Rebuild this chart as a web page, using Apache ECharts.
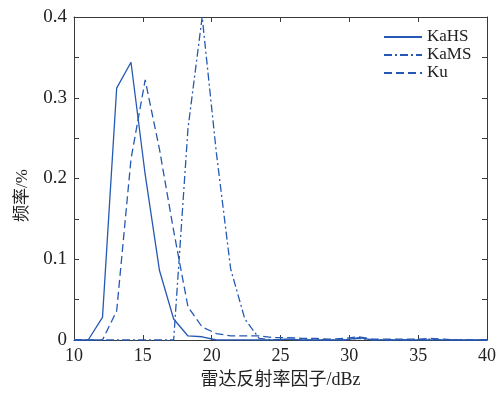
<!DOCTYPE html>
<html>
<head>
<meta charset="utf-8">
<script src="https://cdn.jsdelivr.net/npm/echarts@6/dist/echarts.min.js"></script>
<style>
  html, body { margin: 0; padding: 0; background: #fff; }
  #chart { width: 499px; height: 394px; }
</style>
</head>
<body>
<div id="chart"></div>
<script>
// bin centres (dBz)
const bins = [10, 11.03, 12.07, 13.10, 14.14, 15.17, 16.21, 17.24, 18.28, 19.31,
  20.34, 21.38, 22.41, 23.45, 24.48, 25.52, 26.55, 27.59, 28.62, 29.66,
  30.69, 31.72, 32.76, 33.79, 34.83, 35.86, 36.90, 37.93, 38.97, 40];

const kaHS = [0, 0, 0.028, 0.312, 0.344, 0.205, 0.086, 0.026, 0.005, 0.004,
  0, 0, 0, 0, 0, 0.001, 0, 0, 0, 0,
  0.003, 0, 0, 0, 0, 0, 0, 0, 0, 0];

const kaMS = [0, 0, 0, 0, 0, 0, 0, 0, 0.262, 0.4,
  0.232, 0.088, 0.026, 0.002, 0, 0.001, 0, 0, 0, 0,
  0.002, 0, 0, 0, 0, 0.001, 0, 0, 0, 0];

const ku = [0, 0, 0, 0.036, 0.224, 0.322, 0.236, 0.135, 0.041, 0.016,
  0.008, 0.005, 0.005, 0.005, 0.003, 0.003, 0.002, 0.002, 0.001, 0.002,
  0.004, 0.001, 0.001, 0.001, 0.001, 0.002, 0.001, 0, 0, 0];

const seriesNames = ['KaHS', 'KaMS', 'Ku'];
const xTicks = { min: 10, max: 40, step: 5 };
const yTicks = { min: 0, max: 0.4, step: 0.1 };

const blue = '#2659b3';
const axisColor = '#3a3a3a';
const font = '"Liberation Serif", "Noto Sans CJK SC", serif';

const pairs = (ys) => bins.map((x, i) => [x, ys[i]]);

const chart = echarts.init(document.getElementById('chart'));

const boxAxis = (extra) => Object.assign({
  type: 'value',
  axisLine: { show: true, onZero: false, lineStyle: { color: axisColor, width: 1 } },
  axisTick: { show: true, inside: true, length: 5, lineStyle: { color: axisColor } },
  splitLine: { show: false },
  axisLabel: { show: false }
}, extra);

const option = {
  animation: false,
  backgroundColor: '#fff',
  grid: { left: 74, right: 11, top: 17, bottom: 51 },
  legend: {
    orient: 'vertical',
    left: 383,
    top: 28,
    padding: 0,
    itemWidth: 38,
    itemHeight: 10,
    itemGap: 0,
    itemStyle: { opacity: 0 },
    textStyle: { fontFamily: font, fontSize: 17, color: '#222', lineHeight: 18 },
    data: seriesNames
  },
  xAxis: [
    boxAxis({
      min: xTicks.min, max: xTicks.max, interval: xTicks.step,
      position: 'bottom',
      name: '雷达反射率因子/dBz',
      nameLocation: 'middle',
      nameGap: 31,
      nameTextStyle: { fontFamily: font, fontSize: 18, color: '#222' },
      axisLabel: { show: true, margin: 7, fontFamily: font, fontSize: 18, color: '#222' }
    }),
    boxAxis({ min: xTicks.min, max: xTicks.max, interval: xTicks.step, position: 'top' })
  ],
  yAxis: [
    boxAxis({
      min: yTicks.min, max: yTicks.max, interval: yTicks.step,
      position: 'left',
      name: '频率/%',
      nameLocation: 'middle',
      nameGap: 43,
      nameTextStyle: { fontFamily: font, fontSize: 17, color: '#222', padding: [0, 34, 0, 0] },
      minorTick: { show: true, splitNumber: 2, length: 5, lineStyle: { color: axisColor } },
      axisLabel: { show: true, margin: 7, fontFamily: font, fontSize: 19, color: '#222' }
    }),
    boxAxis({
      min: yTicks.min, max: yTicks.max, interval: yTicks.step, position: 'right',
      minorTick: { show: true, splitNumber: 2, length: 5, lineStyle: { color: axisColor } }
    })
  ],
  series: [
    {
      name: seriesNames[0], type: 'line', data: pairs(kaHS),
      symbol: 'none', clip: true,
      lineStyle: { color: blue, width: 1.3, type: 'solid' },
      itemStyle: { color: blue }
    },
    {
      name: seriesNames[1], type: 'line', data: pairs(kaMS),
      symbol: 'none', clip: true,
      lineStyle: { color: blue, width: 1.3, type: [8, 3, 2, 3] },
      itemStyle: { color: blue }
    },
    {
      name: seriesNames[2], type: 'line', data: pairs(ku),
      symbol: 'none', clip: true,
      lineStyle: { color: blue, width: 1.3, type: [8, 4] },
      itemStyle: { color: blue }
    }
  ]
};

chart.setOption(option);
window.addEventListener('resize', () => chart.resize());
</script>
</body>
</html>
